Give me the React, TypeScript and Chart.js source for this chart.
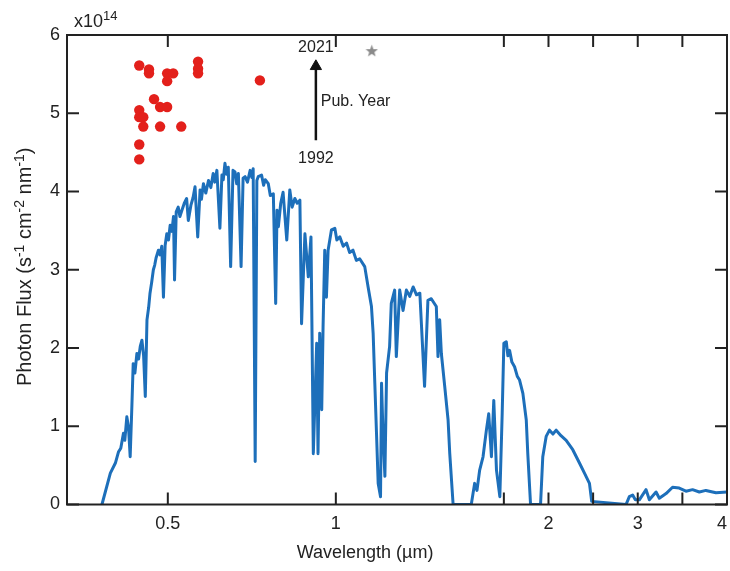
import React, { useEffect, useRef } from 'react';
import { Chart, registerables, LinearScale } from 'chart.js';

// ---------- data ----------
const SPEC_WL = [
  0.304, 0.329, 0.344, 0.353, 0.360, 0.368, 0.372, 0.378, 0.383, 0.388, 0.393, 0.397, 0.402, 0.408, 0.413, 0.418, 0.423, 0.428, 0.433,
  0.438, 0.443, 0.447, 0.452, 0.457, 0.461, 0.465, 0.472, 0.477, 0.482, 0.487, 0.492, 0.497, 0.502, 0.507, 0.512, 0.517, 0.520, 0.525,
  0.531, 0.536, 0.542, 0.549, 0.556,
  0.561, 0.569, 0.575, 0.581, 0.589, 0.596, 0.600, 0.606, 0.613, 0.621, 0.628, 0.635, 0.640, 0.646, 0.655, 0.661, 0.665, 0.670, 0.675,
  0.680, 0.687, 0.694, 0.700, 0.705, 0.710, 0.718, 0.724, 0.730, 0.737, 0.745, 0.750, 0.754, 0.760, 0.765, 0.769, 0.779, 0.785, 0.790,
  0.799, 0.805, 0.814, 0.821, 0.825, 0.829, 0.836, 0.843, 0.854, 0.863, 0.870, 0.878, 0.885, 0.893, 0.898, 0.908, 0.918, 0.926, 0.933,
  0.943, 0.947, 0.952, 0.958, 0.962, 0.967, 0.972,
  0.977, 0.987, 0.997, 1.003, 1.012, 1.022, 1.032, 1.041, 1.051, 1.061, 1.071, 1.086, 1.096, 1.106, 1.111, 1.116, 1.121, 1.126, 1.133,
  1.136, 1.140, 1.146, 1.151, 1.160, 1.165, 1.175, 1.180, 1.190, 1.200, 1.210, 1.220, 1.230, 1.240, 1.250, 1.264, 1.274, 1.284,
  1.299, 1.304, 1.309, 1.314, 1.324, 1.334, 1.339, 1.349, 1.403, 1.413, 1.420, 1.428, 1.438, 1.448, 1.455, 1.463, 1.470,
  1.478, 1.488, 1.495, 1.500, 1.527, 1.545, 1.564, 1.590, 1.620, 1.650, 1.676, 1.713, 1.751, 1.768, 1.799, 1.911, 1.936, 1.974, 2.011,
  2.050, 2.086, 2.140, 2.198, 2.272, 2.347, 2.403, 2.459, 2.484, 2.869, 2.906, 2.943, 2.973, 3.018, 3.093, 3.130, 3.205, 3.242,
  3.317, 3.390, 3.465, 3.540, 3.614, 3.690, 3.764, 3.876, 4.0,
];
const SPEC_FLUX = [
  0, 0.40, 0.53, 0.67, 0.72, 0.91, 0.82, 1.12, 0.99, 0.61, 1.25, 1.80, 1.68, 1.93, 1.86, 2.02, 2.10, 1.90, 1.38,
  2.36, 2.52, 2.70, 2.84, 3.00, 3.06, 3.15, 3.25, 3.19, 3.30, 2.65, 3.31, 3.46, 3.38, 3.57, 3.49, 3.68, 2.87, 3.74,
  3.80, 3.68, 3.76, 3.85, 3.91,
  3.63, 3.83, 3.92, 4.06, 3.42, 4.02, 3.90, 4.10, 3.98, 4.14, 4.05, 4.23, 4.12, 4.27, 3.53, 4.21, 4.15, 4.36, 4.22,
  4.31, 3.04, 4.27, 4.25, 4.10, 4.23, 3.04, 4.17, 4.19, 4.12, 4.27, 4.18, 4.29, 0.55, 4.14, 4.19, 4.21, 4.08, 4.15,
  4.10, 3.95, 3.97, 2.57, 3.76, 3.55, 3.85, 3.99, 3.38, 4.02, 3.80, 3.91, 3.85, 3.89, 2.31, 3.46, 2.91, 3.42, 0.65,
  2.06, 0.65, 2.19, 1.21, 2.27, 3.25, 2.65,
  3.25, 3.51, 3.53, 3.38, 3.42, 3.30, 3.34, 3.22, 3.25, 3.12, 3.14, 3.04, 2.78, 2.53, 2.19, 1.55, 0.91, 0.27, 0.10,
  1.55, 0.95, 0.36, 1.68, 2.02, 2.57, 2.74, 1.89, 2.74, 2.48, 2.74, 2.66, 2.78, 2.68, 2.70, 1.51, 2.61, 2.63,
  2.53, 1.89, 2.36, 1.93, 1.51, 1.08, 0.65, 0, 0, 0.27, 0.18, 0.44, 0.61, 0.95, 1.16, 0.61, 1.33,
  0.44, 0.10, 1.16, 2.06, 2.08, 1.90, 1.97, 1.82, 1.76, 1.64, 1.59, 1.42, 1.08, 0.65, 0, 0, 0.61, 0.87, 0.95,
  0.90, 0.95, 0.88, 0.82, 0.70, 0.53, 0.40, 0.27, 0.04, 0, 0.10, 0.12, 0.06, 0.06, 0.19, 0.06, 0.16, 0.08,
  0.14, 0.22, 0.21, 0.17, 0.19, 0.16, 0.18, 0.15, 0.16,
];

// literature points (wavelength, publication-year position)
const DOT_WL = [0.415, 0.444, 0.444, 0.498, 0.516, 0.498, 0.590, 0.590, 0.590, 0.774, 0.459, 0.477, 0.498, 0.415, 0.415, 0.427, 0.427, 0.477, 0.540, 0.415, 0.415];
const DOT_FLUX = [5.61, 5.56, 5.51, 5.51, 5.51, 5.41, 5.66, 5.57, 5.51, 5.42, 5.18, 5.08, 5.08, 5.04, 4.95, 4.95, 4.83, 4.83, 4.83, 4.60, 4.41];

const STAR_WL = [1.107];
const STAR_FLUX = [5.80];

const ARROW_WL = [0.9406, 0.9406];
const ARROW_FLUX = [4.655, 5.60];

const X_TICKS = [0.2, 0.5, 1, 1.5, 2, 2.5, 3, 3.5, 4];
const X_TICK_LABELS = ['', '0.5', '1', '', '2', '', '3', '', '4'];
const Y_TICKS = [0, 1, 2, 3, 4, 5, 6];

const ANNOT_TEXT = ['2021', 'Pub. Year', '1992'];
const ANNOT_WL = [0.9406, 0.955, 0.9406];
const ANNOT_FLUX = [5.84, 5.153, 4.425];
const ANNOT_ALIGN: CanvasTextAlign[] = ['center', 'left', 'center'];

// ---------- axis with a scale break at 1.5 µm ----------
const BREAK = 1.5;
const K = 0.2656;
const fwd = (v: number) => (v <= BREAK ? v : BREAK + (v - BREAK) * K);
const inv = (u: number) => (u <= BREAK ? u : BREAK + (u - BREAK) / K);

class BrokenLinearScale extends LinearScale {
  static id = 'brokenLinear';
  static defaults = {};
  configure() {
    super.configure();
    const s: any = this;
    s._startValue = fwd(s.min);
    s._endValue = fwd(s.max);
    s._valueRange = s._endValue - s._startValue;
  }
  getPixelForValue(value: any) {
    const s: any = this;
    if (value === null || value === undefined) return NaN;
    return this.getPixelForDecimal((fwd(value) - s._startValue) / s._valueRange);
  }
  getValueForPixel(pixel: number) {
    const s: any = this;
    return inv(s._startValue + this.getDecimalForPixel(pixel) * s._valueRange);
  }
  buildTicks() {
    return X_TICKS.map((v) => ({ value: v })) as any;
  }
}

const FONT = "'Liberation Sans', Arial, Helvetica, sans-serif";
const INK = '#222222';

function makeStar(size: number, color: string) {
  const c = document.createElement('canvas');
  c.width = size;
  c.height = size;
  const g = c.getContext('2d')!;
  const cx = size / 2, cy = size / 2 + 0.6, R = size / 2, r = R * 0.42;
  g.beginPath();
  for (let i = 0; i < 10; i++) {
    const a = -Math.PI / 2 + (i * Math.PI) / 5;
    const rr = i % 2 ? r : R;
    g.lineTo(cx + rr * Math.cos(a), cy + rr * Math.sin(a));
  }
  g.closePath();
  g.fillStyle = color;
  g.fill();
  return c;
}

function drawRich(ctx: CanvasRenderingContext2D, parts: [string, boolean][], x: number, y: number, size: number, supSize: number, rise: number, align: 'center' | 'left') {
  const widths = parts.map(([t, sup]) => {
    ctx.font = `${sup ? supSize : size}px ${FONT}`;
    return ctx.measureText(t).width;
  });
  const total = widths.reduce((a, b) => a + b, 0);
  let cx = align === 'center' ? x - total / 2 : x;
  ctx.textAlign = 'left';
  ctx.textBaseline = 'alphabetic';
  parts.forEach(([t, sup], i) => {
    ctx.font = `${sup ? supSize : size}px ${FONT}`;
    ctx.fillText(t, cx, sup ? y - rise : y);
    cx += widths[i];
  });
}

const framePlugin = {
  id: 'frameAndText',
  afterDatasetsDraw(chart: any) {
    const { ctx, chartArea: a, scales } = chart;
    const xs = scales.x, ys = scales.y;
    const TL = 12;
    ctx.save();
    ctx.strokeStyle = INK;
    ctx.lineWidth = 2;
    ctx.strokeRect(a.left, a.top, a.right - a.left, a.bottom - a.top);
    ctx.beginPath();
    X_TICKS.forEach((v) => {
      const px = xs.getPixelForValue(v);
      ctx.moveTo(px, a.bottom);
      ctx.lineTo(px, a.bottom - TL);
      ctx.moveTo(px, a.top);
      ctx.lineTo(px, a.top + TL);
    });
    Y_TICKS.forEach((v) => {
      const py = ys.getPixelForValue(v);
      ctx.moveTo(a.left, py);
      ctx.lineTo(a.left + TL, py);
      ctx.moveTo(a.right, py);
      ctx.lineTo(a.right - TL, py);
    });
    ctx.stroke();

    ctx.fillStyle = INK;
    // annotations
    ctx.font = `16px ${FONT}`;
    ctx.textBaseline = 'middle';
    ANNOT_TEXT.forEach((t, i) => {
      ctx.textAlign = ANNOT_ALIGN[i];
      ctx.fillText(t, xs.getPixelForValue(ANNOT_WL[i]), ys.getPixelForValue(ANNOT_FLUX[i]));
    });

    // exponent
    drawRich(ctx, [['x10', false], ['14', true]], a.left + 7, a.top - 8, 18, 13, 7, 'left');

    // x title
    ctx.font = `18px ${FONT}`;
    ctx.textAlign = 'center';
    ctx.textBaseline = 'middle';
    ctx.fillText('Wavelength (µm)', 365, 553);

    // y title
    ctx.save();
    ctx.translate(24, (a.top + a.bottom) / 2 - 3);
    ctx.rotate(-Math.PI / 2);
    drawRich(
      ctx,
      [['Photon Flux (s', false], ['-1', true], [' cm', false], ['-2', true], [' nm', false], ['-1', true], [')', false]],
      0, 7, 20, 14, 7, 'center'
    );
    ctx.restore();
    ctx.restore();
  },
};

export default function App() {
  const ref = useRef<HTMLCanvasElement>(null);
  useEffect(() => {
    Chart.register(...registerables, BrokenLinearScale as any);
    const star = makeStar(13, '#8a8a8a');
    const chart = new Chart(ref.current!, {
      type: 'line',
      data: {
        datasets: [
          {
            data: SPEC_WL.map((x, i) => ({ x, y: SPEC_FLUX[i] })),
            borderColor: '#1d6fba',
            borderWidth: 3,
            pointRadius: 0,
            tension: 0,
            borderJoinStyle: 'round',
            fill: false,
          },
          {
            data: DOT_WL.map((x, i) => ({ x, y: DOT_FLUX[i] })),
            showLine: false,
            pointRadius: 5.2,
            pointBackgroundColor: '#e3201b',
            pointBorderColor: '#e3201b',
            pointBorderWidth: 0,
          },
          {
            data: STAR_WL.map((x, i) => ({ x, y: STAR_FLUX[i] })),
            showLine: false,
            pointStyle: star as any,
          },
          {
            data: ARROW_WL.map((x, i) => ({ x, y: ARROW_FLUX[i] })),
            borderColor: '#111111',
            borderWidth: 2.5,
            pointStyle: 'triangle',
            pointRadius: [0, 6.5],
            pointBackgroundColor: '#111111',
            pointBorderColor: '#111111',
            pointBorderWidth: 1,
          },
        ] as any,
      },
      options: {
        responsive: false,
        animation: false,
        devicePixelRatio: 1,
        layout: { autoPadding: false, padding: { top: 35, right: 3, left: 0, bottom: 0 } },
        plugins: { legend: { display: false }, tooltip: { enabled: false } },
        scales: {
          x: {
            type: 'brokenLinear' as any,
            min: 0.2,
            max: 4,
            grid: {
              display: true,
              drawOnChartArea: false,
              drawTicks: true,
              tickLength: 9,
              color: 'rgba(0,0,0,0)',
            },
            border: { display: false },
            ticks: {
              autoSkip: false,
              maxRotation: 0,
              align: 'inner',
              padding: 0,
              color: INK,
              font: { family: FONT, size: 18 },
              callback: (v: any) => X_TICK_LABELS[X_TICKS.indexOf(Number(v))] ?? '',
            },
            afterFit: (s: any) => {
              s.height = 66.5;
            },
          },
          y: {
            type: 'linear',
            min: 0,
            max: 6,
            grid: { display: false, drawTicks: false },
            border: { display: false },
            ticks: {
              stepSize: 1,
              padding: 7,
              color: INK,
              font: { family: FONT, size: 18 },
            },
            afterFit: (s: any) => {
              s.width = 67;
            },
          },
        } as any,
      },
      plugins: [framePlugin],
    });
    return () => chart.destroy();
  }, []);
  return (
    <div style={{ position: 'fixed', left: 0, top: 0, width: 730, height: 571, background: '#fff' }}>
      <canvas ref={ref} width={730} height={571} style={{ display: 'block', width: 730, height: 571 }} />
    </div>
  );
}
